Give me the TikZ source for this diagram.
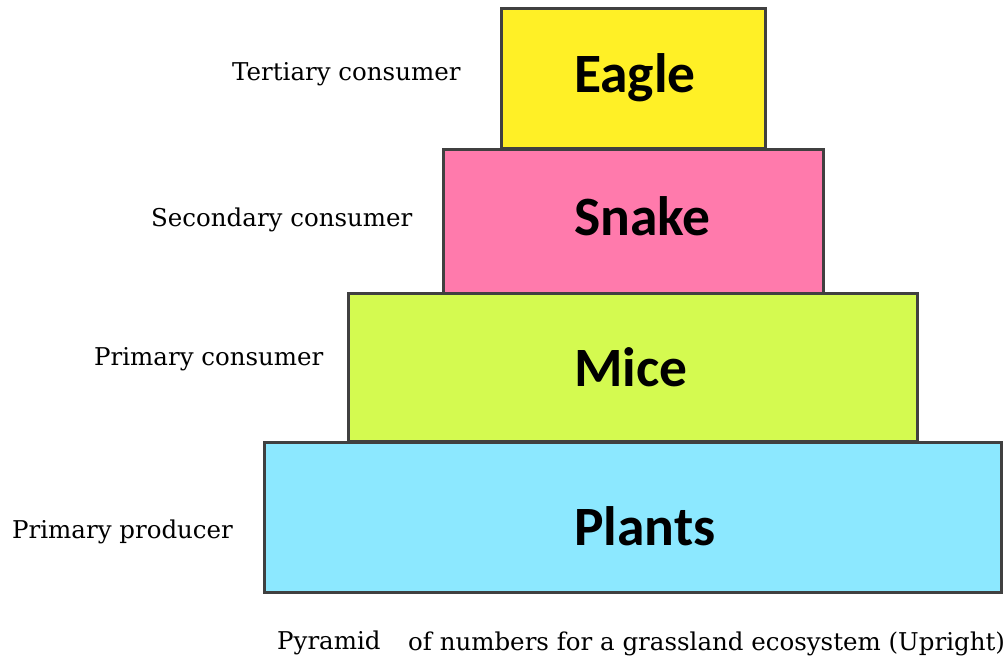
\documentclass[tikz,border=0pt]{standalone}
\usepackage{fontspec}
\setmainfont{DejaVu Serif}
\newfontfamily\boxfont{Carlito}
\definecolor{boxline}{RGB}{64,64,64}
\definecolor{eaglefill}{RGB}{255,240,38}
\definecolor{snakefill}{RGB}{255,122,172}
\definecolor{micefill}{RGB}{212,250,80}
\definecolor{plantfill}{RGB}{140,232,255}
\begin{document}
\begin{tikzpicture}[x=1pt,y=-1pt,
  tier/.style={draw=boxline, line width=3pt, inner sep=0pt, outer sep=0pt, anchor=north west},
  animal/.style={font=\boxfont\bfseries\fontsize{55.5}{55.5}\selectfont, anchor=base west, inner sep=0pt},
  level/.style={font=\fontsize{24.5}{24.5}\selectfont, anchor=base west, inner sep=0pt}]
\useasboundingbox (0,0) rectangle (1003,662);
\node[tier, fill=plantfill, minimum width=737pt, minimum height=150pt] (plants) at (264,442) {};
\node[tier, fill=micefill, minimum width=569pt, minimum height=148pt] (mice) at (348,293) {};
\node[tier, fill=snakefill, minimum width=380pt, minimum height=144pt] (snake) at (443,149) {};
\node[tier, fill=eaglefill, minimum width=264pt, minimum height=140pt] (eagle) at (501,8) {};
\node[animal] (teagle) at (574,92) {Eagle};
\node[animal] (tsnake) at (574,235) {Snake};
\node[animal] (tmice) at (574,386) {Mice};
\node[animal] (tplants) at (574,545) {Plants};
\node[level] (l4) at (232,80) {Tertiary consumer};
\node[level] (l3) at (151,226) {Secondary consumer};
\node[level] (l2) at (94,365) {Primary consumer};
\node[level] (l1) at (12,538) {Primary producer};
\node[level] (c1) at (277,649) {Pyramid};
\node[level] (c2) at (408,650) {of numbers for a grassland ecosystem (Upright)};
\end{tikzpicture}
\end{document}
